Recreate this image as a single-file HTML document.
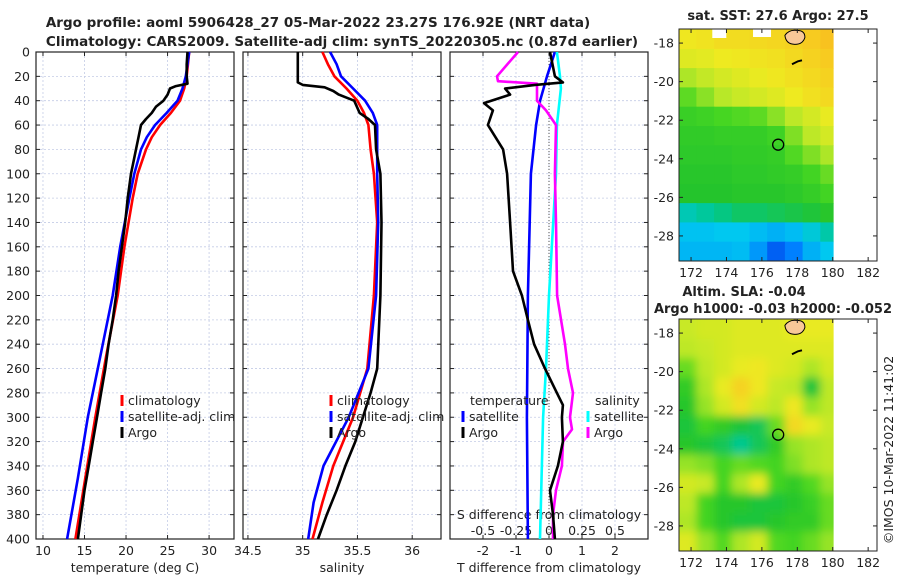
<!DOCTYPE html>
<html><head><meta charset="utf-8"><style>
body{margin:0;background:#fff;width:900px;height:580px;overflow:hidden}
svg{font-family:"DejaVu Sans","Liberation Sans",sans-serif}
text{fill:#222}
</style></head><body>
<svg id="fig" width="900" height="580">
<text x="318" y="27" font-size="13.5" font-weight="bold" text-anchor="middle">Argo profile: aoml 5906428_27 05-Mar-2022 23.27S 176.92E (NRT data)</text>
<text x="342" y="46" font-size="13.5" font-weight="bold" text-anchor="middle">Climatology: CARS2009. Satellite-adj clim: synTS_20220305.nc (0.87d earlier)</text>
<text x="778" y="20" font-size="13" font-weight="bold" text-anchor="middle">sat. SST: 27.6 Argo: 27.5</text>
<text x="744" y="296" font-size="13" font-weight="bold" text-anchor="middle">Altim. SLA: -0.04</text>
<text x="773" y="313" font-size="13" font-weight="bold" text-anchor="middle">Argo h1000: -0.03 h2000: -0.052</text>
<text transform="translate(893,450) rotate(-90)" font-size="12.5" text-anchor="middle">©IMOS 10-Mar-2022 11:41:02</text>
<g id="g"></g>
</svg>
<script>
// ---- data ----
const depthTicks=[0,20,40,60,80,100,120,140,160,180,200,220,240,260,280,300,320,340,360,380,400];
const tempTicks=[10,15,20,25,30];
const salTicks=[34.5,35,35.5,36];
const tdiffTicks=[-2,-1,0,1,2];
const sdiffTickLabels=['-0.5','-0.25','0','0.25','0.5'];
const sdiffTicks=[-0.5,-0.25,0,0.25,0.5];
const tClimDepth=[0,20,30,40,50,60,70,80,100,120,160,200,250,300,350,400];
const tClimVal=[27.6,27.3,27,26.5,25.4,24.1,23.1,22.4,21.4,20.8,19.8,19.0,17.6,16.3,15.1,13.9];
const tSatVal=[27.6,27.2,26.8,26.2,24.9,23.5,22.5,21.8,21.0,20.4,19.3,18.4,16.9,15.4,14.2,12.9];
const tArgoDepth=[0,10,20,26,28,30,35,40,45,50,55,60,70,80,90,100,120,140,160,180,200,220,240,260,280,300,320,340,360,380,400];
const tArgoVal=[27.4,27.3,27.3,27.4,26.0,25.3,25.0,24.5,23.6,23.1,22.4,21.8,21.5,21.2,20.9,20.6,20.2,19.9,19.5,19.1,18.8,18.4,17.9,17.5,17.0,16.5,16.0,15.5,15.0,14.6,14.2];
const sClimDepth=[0,10,20,30,40,50,60,80,100,140,200,260,300,340,370,400];
const sClimVal=[35.18,35.23,35.29,35.4,35.5,35.56,35.6,35.62,35.65,35.68,35.65,35.59,35.46,35.28,35.18,35.09];
const sSatVal=[35.25,35.31,35.35,35.46,35.57,35.64,35.68,35.68,35.68,35.69,35.67,35.6,35.42,35.19,35.1,35.05];
const sArgoDepth=[0,25,27,29,32,35,40,50,55,60,80,100,140,200,260,280,300,320,340,360,380,400];
const sArgoVal=[34.955,34.955,35.0,35.2,35.28,35.33,35.47,35.52,35.6,35.66,35.67,35.71,35.72,35.71,35.68,35.62,35.55,35.48,35.39,35.31,35.22,35.14];
const dTArgoDepth=[0,20,25,27,30,35,42,48,60,80,100,140,180,200,220,240,260,280,290,300,320,340,360,380,400];
const dTArgoVal=[0.03,0.18,0.42,-0.42,-1.33,-1.18,-1.97,-1.7,-1.85,-1.39,-1.27,-1.18,-1.09,-0.82,-0.64,-0.45,-0.12,0.24,0.42,0.39,0.42,0.27,0.03,0.12,0.18];
const dTSatDepth=[0,20,40,60,100,200,300,400];
const dTSatVal=[0.18,-0.06,-0.27,-0.39,-0.55,-0.64,-0.67,-0.64];
const dSSatDepth=[0,20,30,60,100,200,260,300,400];
const dSSatVal=[0.06,0.083,0.09,0.06,0.053,0,-0.023,-0.045,-0.068];
const dSArgoDepth=[0,20,24,26,40,48,60,100,140,200,240,260,280,300,310,320,340,360,380,400];
const dSArgoVal=[-0.235,-0.394,-0.386,-0.091,-0.091,-0.023,0.053,0.045,0.053,0.061,0.121,0.144,0.182,0.159,0.174,0.106,0.098,0.053,0.03,0.03];
const mapLons=[171.8,172.8,173.8,174.8,175.8,176.8,177.8,178.8,179.8];
const mapLats=[-17.8,-18.8,-19.8,-20.8,-21.8,-22.8,-23.8,-24.8,-25.8,-26.8,-27.8,-28.8];
const sstGrid=[
[.76,.77,.79,.79,.80,.81,.82,.84,.86],
[.72,.73,.75,.76,.77,.78,.80,.82,.84],
[.64,.67,.70,.72,.74,.76,.78,.80,.82],
[.57,.61,.65,.68,.70,.72,.75,.78,.80],
[.52,.53,.55,.56,.57,.61,.66,.70,.74],
[.50,.50,.51,.51,.51,.53,.60,.66,.70],
[.49,.49,.49,.50,.50,.51,.56,.60,.64],
[.48,.48,.48,.49,.49,.50,.51,.54,.58],
[.47,.47,.47,.48,.48,.48,.49,.51,.54],
[.37,.39,.41,.43,.43,.44,.45,.46,.48],
[.31,.31,.32,.32,.30,.28,.30,.34,.38],
[.29,.29,.29,.30,.24,.16,.20,.28,.32]];
const slaGrid=[
[.68,.70,.70,.72,.72,.72,.74,.74,.74],
[.66,.68,.70,.72,.72,.72,.72,.72,.72],
[.58,.66,.70,.74,.76,.72,.70,.64,.70],
[.50,.64,.74,.82,.76,.68,.66,.46,.66],
[.48,.62,.70,.78,.70,.66,.76,.62,.66],
[.46,.54,.50,.46,.44,.58,.80,.74,.68],
[.48,.46,.44,.40,.44,.50,.62,.64,.66],
[.62,.60,.54,.58,.56,.54,.60,.64,.66],
[.70,.68,.54,.64,.74,.54,.50,.56,.62],
[.66,.54,.48,.48,.46,.46,.48,.52,.58],
[.64,.54,.48,.46,.46,.48,.50,.50,.58],
[.72,.62,.56,.64,.70,.56,.54,.58,.62]];
const mapLonTicks=[172,174,176,178,180,182];
const mapLatTicks=[-18,-20,-22,-24,-26,-28];
const argoLon=176.92, argoLat=-23.27;

// ---- helpers ----
const NS='http://www.w3.org/2000/svg';
const G=document.getElementById('g');
function mk(tag,at,parent){const e=document.createElementNS(NS,tag);for(const k in at)e.setAttribute(k,at[k]);(parent||G).appendChild(e);return e;}
const TOP=52,BOT=539;
const yD=d=>TOP+d*(BOT-TOP)/400;
const panels=[
 {x0:36,x1:234,min:9.16,max:33.0,name:'temperature-panel'},
 {x0:243,x1:441,min:34.455,max:36.263,name:'salinity-panel'},
 {x0:450,x1:648,min:-3,max:3,name:'difference-panel'}];
const sx=(p,v)=>p.x0+(v-p.min)/(p.max-p.min)*(p.x1-p.x0);
const sxS=(v)=>sx(panels[2],v*4);

function drawFrame(p,ticks,labels){
  for(const d of depthTicks){
    const l=mk('line',{x1:p.x0,x2:p.x1,y1:yD(d),y2:yD(d),stroke:'#c4cce6','stroke-width':0.8,'stroke-dasharray':'2,2'});
    
    
    for(const x of [p.x0,p.x1]){mk('line',{x1:x,x2:x+(x==p.x0?4:-4),y1:yD(d),y2:yD(d),stroke:'#222'});}
  }
  ticks.forEach((t,i)=>{
    const x=sx(p,t);
    const l=mk('line',{x1:x,x2:x,y1:TOP,y2:BOT,stroke:'#c4cce6','stroke-width':0.8,'stroke-dasharray':'2,2'});
    
    
    mk('line',{x1:x,x2:x,y1:BOT,y2:BOT-4,stroke:'#222'});
    mk('line',{x1:x,x2:x,y1:TOP,y2:TOP+4,stroke:'#222'});
    const tx=mk('text',{x:x,y:BOT+16,'font-size':12.5,'text-anchor':'middle'});
    
    
    tx.textContent=labels[i];
  });
  const r=mk('rect',{x:p.x0,y:TOP,width:p.x1-p.x0,height:BOT-TOP,fill:'none',stroke:'#222','stroke-width':1.2});
  
  
}
function series(xfn,depths,vals,color,name){
  const pts=depths.map((d,i)=>xfn(vals[i]).toFixed(1)+','+yD(d).toFixed(1)).join(' ');
  const pl=mk('polyline',{points:pts,fill:'none',stroke:color,'stroke-width':2.6,'stroke-linejoin':'round'});
  
  
}
function legend(x,y,color,label,name){
  const l=mk('line',{x1:x,x2:x,y1:y-10,y2:y+1,stroke:color,'stroke-width':3});
  
  
  const t=mk('text',{x:x+6,y:y,'font-size':12.5});
  
  
  t.textContent=label;
}
drawFrame(panels[0],tempTicks,tempTicks.map(String));
drawFrame(panels[1],salTicks,salTicks.map(String));
drawFrame(panels[2],tdiffTicks,tdiffTicks.map(String));
depthTicks.forEach(d=>{
  const t=mk('text',{x:30,y:yD(d)+4.5,'font-size':12.5,'text-anchor':'end'});
  
  
  t.textContent=d;
});
[['temperature (deg C)',135,'x-axis-title-temperature'],['salinity',342,'x-axis-title-salinity'],['T difference from climatology',549,'x-axis-title-tdiff']].forEach(a=>{
  const t=mk('text',{x:a[1],y:572,'font-size':12.5,'text-anchor':'middle'});
  
  
  t.textContent=a[0];
});
const z=mk('line',{x1:sx(panels[2],0),x2:sx(panels[2],0),y1:TOP,y2:BOT,stroke:'#555','stroke-width':1,'stroke-dasharray':'1,2'});


const st=mk('text',{x:549,y:519,'font-size':12.5,'text-anchor':'middle'});


st.textContent='S difference from climatology';
sdiffTicks.forEach((v,i)=>{
  const t=mk('text',{x:sxS(v),y:535,'font-size':12.5,'text-anchor':'middle'});
  
  
  t.textContent=sdiffTickLabels[i];
});
const pT=v=>sx(panels[0],v), pS=v=>sx(panels[1],v), pD=v=>sx(panels[2],v);
series(pT,tClimDepth,tClimVal,'#ff0000','temp-climatology-line');
series(pT,tClimDepth,tSatVal,'#0000ff','temp-satellite-line');
series(pT,tArgoDepth,tArgoVal,'#000','temp-argo-line');
series(pS,sClimDepth,sClimVal,'#ff0000','sal-climatology-line');
series(pS,sClimDepth,sSatVal,'#0000ff','sal-satellite-line');
series(pS,sArgoDepth,sArgoVal,'#000','sal-argo-line');
series(pD,dTSatDepth,dTSatVal,'#0000ff','tdiff-satellite-line');
series(sxS,dSSatDepth,dSSatVal,'#00ffff','sdiff-satellite-line');
series(sxS,dSArgoDepth,dSArgoVal,'#ff00ff','sdiff-argo-line');
series(pD,dTArgoDepth,dTArgoVal,'#000','tdiff-argo-line');
legend(122,405,'#ff0000','climatology','legend-climatology');
legend(122,421,'#0000ff','satellite-adj. clim','legend-satellite');
legend(122,437,'#000','Argo','legend-argo');
legend(331,405,'#ff0000','climatology','legend-sal-climatology');
legend(331,421,'#0000ff','satellite-adj. clim','legend-sal-satellite');
legend(331,437,'#000','Argo','legend-sal-argo');
{const t=mk('text',{x:470,y:405,'font-size':12.5});t.textContent='temperature';}
legend(463,421,'#0000ff','satellite','legend-tdiff-satellite');
legend(463,437,'#000','Argo','legend-tdiff-argo');
{const t=mk('text',{x:595,y:405,'font-size':12.5});t.textContent='salinity';}
legend(588,421,'#00ffff','satellite','legend-sdiff-satellite');
legend(588,437,'#ff00ff','Argo','legend-sdiff-argo');

// ---- maps ----
const cstops=[[0.1,[0,48,224]],[0.2,[0,128,255]],[0.32,[0,200,240]],[0.4,[0,200,144]],[0.47,[36,196,44]],[0.55,[70,214,34]],[0.65,[184,232,40]],[0.75,[238,234,32]],[0.85,[248,200,32]],[0.95,[248,144,24]]];
function cmap(v){
  if(v<=cstops[0][0])return 'rgb('+cstops[0][1]+')';
  for(let i=1;i<cstops.length;i++){if(v<=cstops[i][0]){const a=cstops[i-1],b=cstops[i],f=(v-a[0])/(b[0]-a[0]);return 'rgb('+a[1].map((c,k)=>Math.round(c+(b[1][k]-c)*f)).join(',')+')';}}
  return 'rgb('+cstops[cstops.length-1][1]+')';
}
const MX0=679,MX1=877,LON0=171.32,LON1=182.5;
const mlx=l=>MX0+(l-LON0)/(LON1-LON0)*(MX1-MX0);
function drawMap(top,bot,grid,name,blur){
  const LAT0=-17.27,LAT1=-29.3;
  const mly=l=>top+(l-LAT0)/(LAT1-LAT0)*(bot-top);
  const grp=mk('g',{'clip-path':'url(#clip-'+name+')'});
  const cp=mk('clipPath',{id:'clip-'+name});
  mk('rect',{x:MX0,y:top,width:mlx(180.05)-MX0,height:bot-top},cp);
  const inner=mk('g',blur?{filter:'url(#blur)'}:{},grp);
  grid.forEach((row,r)=>row.forEach((v,c)=>{
    if(v===null)return;
    const x=mlx(mapLons[c]-0.5)-(c==0?12:0), y=mly(mapLats[r]+0.5)-(r==0?12:0);
    const w=mlx(mapLons[c]+0.5)-x+(c==row.length-1?8:0)+0.5, h=mly(mapLats[r]-0.5)-y+(r==grid.length-1?12:0)+0.5;
    const e=mk('rect',{x:x.toFixed(1),y:y.toFixed(1),width:w.toFixed(1),height:h.toFixed(1),fill:cmap(v)},inner);
    
    
  }));
  if(!blur){
    mk('rect',{x:mlx(173.2),y:top,width:14,height:9,fill:'#fff'},grp);
    mk('rect',{x:mlx(175.5),y:top,width:18,height:8,fill:'#fff'},grp);
  }
  const isl=mk('path',{d:`M${mlx(177.3)} ${mly(-17.6)} q4 -6 12 -5 q8 0 8 7 q-2 7 -10 7 q-9 0 -10 -9z`,fill:'#f8c898',stroke:'#000','stroke-width':1});
  
  
  mk('path',{d:`M${mlx(177.7)} ${mly(-19.1)} l6 -3 l4 -1`,stroke:'#000','stroke-width':2,fill:'none'});
  const ci=mk('circle',{cx:mlx(argoLon),cy:mly(argoLat),r:5.5,fill:'none',stroke:'#000','stroke-width':1.3});
  
  
  const fr=mk('rect',{x:MX0,y:top,width:MX1-MX0,height:bot-top,fill:'none',stroke:'#222','stroke-width':1});
  
  
  mapLonTicks.forEach(l=>{
    const x=mlx(l);
    mk('line',{x1:x,x2:x,y1:bot,y2:bot-4,stroke:'#222'});
    mk('line',{x1:x,x2:x,y1:top,y2:top+4,stroke:'#222'});
    const t=mk('text',{x:x,y:bot+16,'font-size':12.5,'text-anchor':'middle'});
    
    
    t.textContent=l;
  });
  mapLatTicks.forEach(l=>{
    const y=mly(l);
    mk('line',{x1:MX0,x2:MX0+4,y1:y,y2:y,stroke:'#222'});
    mk('line',{x1:MX1,x2:MX1-4,y1:y,y2:y,stroke:'#222'});
    const t=mk('text',{x:MX0-5,y:y+4.5,'font-size':12.5,'text-anchor':'end'});
    
    
    t.textContent=l;
  });
}
const defs=mk('defs',{});
const f=mk('filter',{id:'blur',x:'-10%',y:'-10%',width:'120%',height:'120%'},defs);
mk('feGaussianBlur',{stdDeviation:4.5},f);
drawMap(29,261,sstGrid,'sst-map',false);
drawMap(319,551,slaGrid,'sla-map',true);
</script>
</body></html>
